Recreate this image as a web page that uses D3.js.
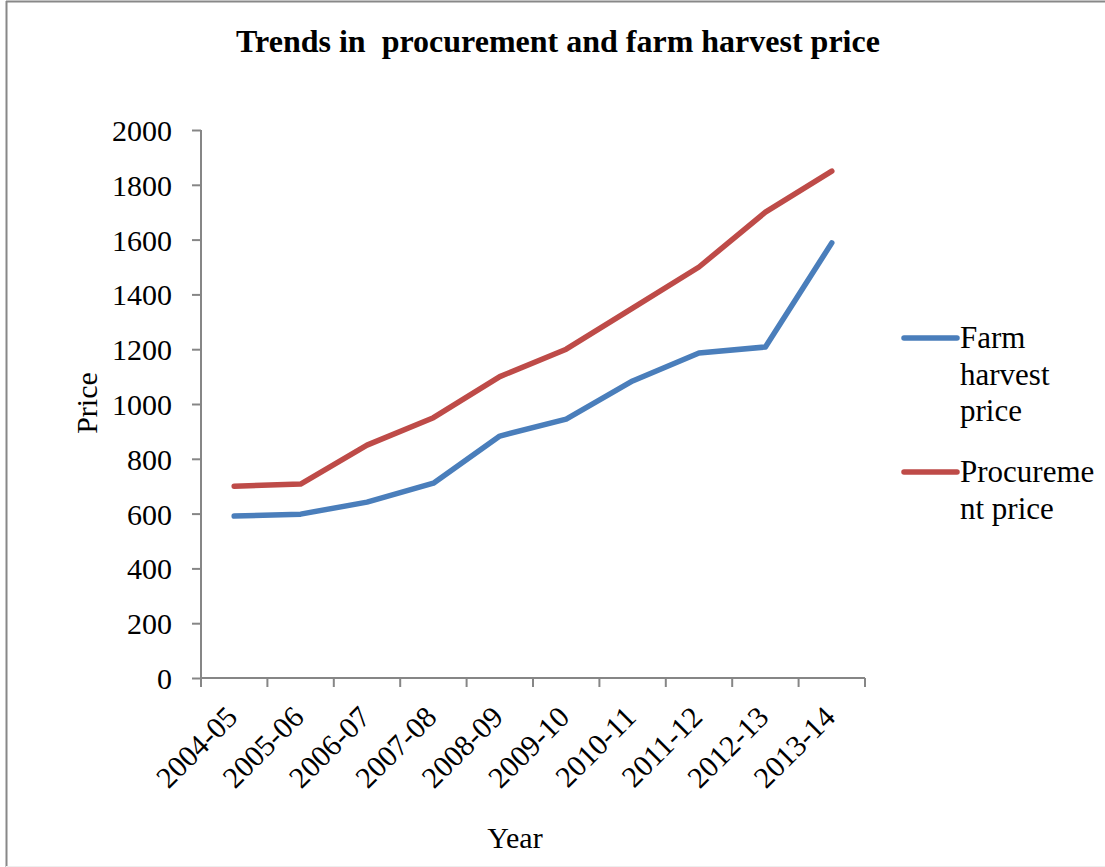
<!DOCTYPE html>
<html><head><meta charset="utf-8">
<script src="https://cdn.jsdelivr.net/npm/d3@7"></script>
<style>body{margin:0;background:#fff}svg{display:block}</style>
</head><body>
<svg id="c" width="1105" height="867"></svg>
<script>
const categories = ["2004-05","2005-06","2006-07","2007-08","2008-09","2009-10","2010-11","2011-12","2012-13","2013-14"];
const farmHarvest = [591, 598, 642, 711, 883, 945, 1084, 1186, 1208, 1588];
const procurement = [700, 708, 850, 950, 1100, 1200, 1350, 1500, 1700, 1850];
const yTicks = [0,200,400,600,800,1000,1200,1400,1600,1800,2000];
const seriesNames = [["Farm","harvest","price"],["Procureme","nt price"]];
const colors = ["#4a7ebb","#be4b48"];

const svg = d3.select("#c");
const font = "'Liberation Serif','Times New Roman',serif";
const L=201, R=865, T=130, B=678;

// border
svg.append("line").attr("x1",6.5).attr("x2",6.5).attr("y1",1).attr("y2",867).attr("stroke","#888").attr("stroke-width",2);
svg.append("line").attr("x1",6).attr("x2",1105).attr("y1",1.5).attr("y2",1.5).attr("stroke","#888").attr("stroke-width",2);
svg.append("line").attr("x1",6).attr("x2",1105).attr("y1",866.5).attr("y2",866.5).attr("stroke","#eee").attr("stroke-width",1);

const x = d3.scaleBand().domain(categories).range([L,R]);
const y = d3.scaleLinear().domain([0,2000]).range([B,T]);

// y axis
const ya = svg.append("g").attr("transform",`translate(${L},0)`)
  .call(d3.axisLeft(y).tickValues(yTicks).tickSize(9).tickPadding(20).tickFormat(d3.format("d")));
ya.select(".domain").attr("stroke","#868686").attr("stroke-width",2).attr("d",`M0,${T}V${B}`);
ya.selectAll(".tick line").attr("stroke","#868686").attr("stroke-width",2);
ya.selectAll(".tick text").attr("font-family",font).attr("font-size",30).attr("fill","#000").attr("dy","0.35em");

// x axis
const xa = svg.append("g").attr("transform",`translate(0,${B})`)
  .call(d3.axisBottom(x).tickSize(0).tickFormat(d=>d));
xa.select(".domain").attr("stroke","#868686").attr("stroke-width",2).attr("d",`M${L},0H${R}`);
xa.selectAll(".tick text").attr("font-family",font).attr("font-size",30).attr("fill","#000")
  .attr("text-anchor","end").attr("dy",0).attr("y",0)
  .attr("transform","translate(5,41) rotate(-45)");
// boundary ticks
const bounds = categories.map(c=>x(c)).concat([R]);
svg.append("g").selectAll("line").data(bounds).join("line")
  .attr("x1",d=>d).attr("x2",d=>d).attr("y1",B).attr("y2",B+9)
  .attr("stroke","#868686").attr("stroke-width",2);

// lines
const line = d3.line().x((d,i)=>x(categories[i])+x.bandwidth()/2).y(d=>y(d));
[farmHarvest, procurement].forEach((s,i)=>{
  svg.append("path").attr("d",line(s)).attr("fill","none").attr("stroke",colors[i])
    .attr("stroke-width",5.5).attr("stroke-linejoin","round").attr("stroke-linecap","round");
});

// title
svg.append("text").attr("x",558).attr("y",52).attr("text-anchor","middle")
  .attr("font-family",font).attr("font-size",32).attr("font-weight","bold")
  .attr("xml:space","preserve").style("white-space","pre")
  .text("Trends in  procurement and farm harvest price");

// axis titles
svg.append("text").attr("transform","translate(97,403) rotate(-90)").attr("text-anchor","middle")
  .attr("font-family",font).attr("font-size",30).text("Price");
svg.append("text").attr("x",515).attr("y",848).attr("text-anchor","middle")
  .attr("font-family",font).attr("font-size",30).text("Year");

// legend
const legY = [338, 472];
seriesNames.forEach((lines,i)=>{
  svg.append("line").attr("x1",904).attr("x2",957).attr("y1",legY[i]).attr("y2",legY[i])
    .attr("stroke",colors[i]).attr("stroke-width",5.5).attr("stroke-linecap","round");
  const t = svg.append("text").attr("font-family",font).attr("font-size",31);
  lines.forEach((ln,j)=>{
    t.append("tspan").attr("x",960).attr("y",legY[i]+10+j*36.5).text(ln);
  });
});
</script>
</body></html>
